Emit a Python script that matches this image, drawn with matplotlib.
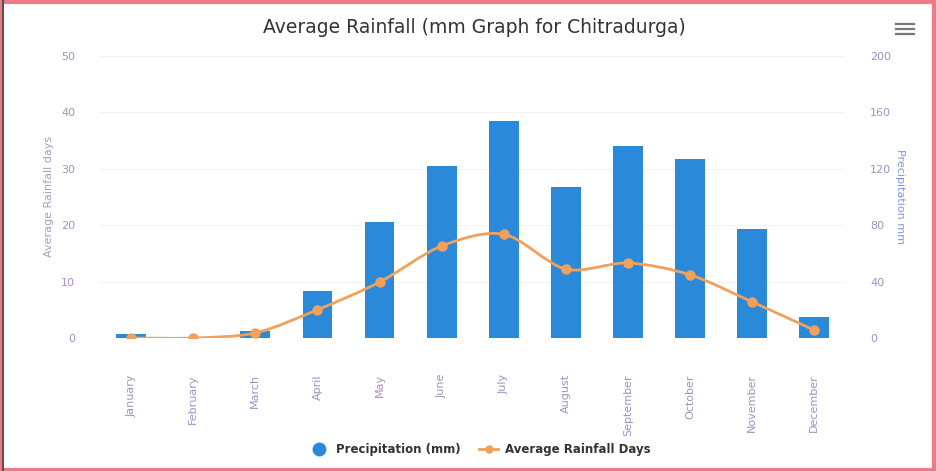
import numpy as np
import matplotlib
matplotlib.use("Agg")
import matplotlib.pyplot as plt
from matplotlib.path import Path
from matplotlib.patches import PathPatch, Rectangle
from matplotlib.lines import Line2D

months = ['January', 'February', 'March', 'April', 'May', 'June', 'July',
          'August', 'September', 'October', 'November', 'December']
precip_mm = [3, 0.5, 5, 33, 82, 122, 154, 107, 136, 127, 77, 15]
rain_days = [0, 0, 0.9, 5.0, 9.9, 16.3, 18.4, 12.2, 13.3, 11.2, 6.4, 1.4]

bar_col = '#2a8ad9'
line_col = '#f2a05a'
tick_col = '#a48fc4'


def spline_path(xs, ys, k=0.3):
    # smooth curve through the points, like a highcharts spline
    verts = [(xs[0], ys[0])]
    codes = [Path.MOVETO]
    n = len(xs)
    for i in range(n - 1):
        x0, y0 = xs[max(i - 1, 0)], ys[max(i - 1, 0)]
        x1, y1 = xs[i], ys[i]
        x2, y2 = xs[i + 1], ys[i + 1]
        x3, y3 = xs[min(i + 2, n - 1)], ys[min(i + 2, n - 1)]
        c1 = (x1 + (x2 - x0) * k / 2, y1 + (y2 - y0) * k / 2)
        c2 = (x2 - (x3 - x1) * k / 2, y2 - (y3 - y1) * k / 2)
        verts += [c1, c2, (x2, y2)]
        codes += [Path.CURVE4] * 3
    return Path(verts, codes)


fig = plt.figure(figsize=(9.36, 4.71), dpi=100)
ax = fig.add_axes([0.107, 0.2824, 0.796, 0.599])
ax2 = ax.twinx()

x = np.arange(len(months))

# bars on the precipitation (right) axis
ax2.set_axisbelow(True)
ax2.yaxis.grid(True, color='#f3f3f3', lw=0.8)
ax2.bar(x, precip_mm, width=0.48, color=bar_col, zorder=2)
ax2.set_ylim(0, 200)
ax2.set_yticks([0, 40, 80, 120, 160, 200])

# rainfall days on the left axis, drawn above the bars
ax.set_zorder(ax2.get_zorder() + 1)
ax.patch.set_visible(False)
ax.add_patch(PathPatch(spline_path(list(x), rain_days), facecolor='none',
                       edgecolor=line_col, lw=2))
ax.plot(x, rain_days, 'o', color=line_col, ms=6.5, zorder=4)
ax.set_ylim(0, 50)
ax.set_yticks([0, 10, 20, 30, 40, 50])
ax.set_xlim(-0.5, 11.5)
ax.set_xticks(x)
ax.set_xticklabels(months, rotation=90, color=tick_col, fontsize=7.5,
                   va='top', ha='center')

for a in (ax, ax2):
    for s in a.spines.values():
        s.set_visible(False)
    a.tick_params(length=0, labelsize=8, labelcolor=tick_col)
ax.tick_params(axis='y', pad=18)
ax.tick_params(axis='x', pad=26)
ax2.tick_params(axis='y', pad=18)

ax.set_ylabel('Average Rainfall days', color='#a79cc4', fontsize=8, labelpad=5)
ax2.set_ylabel('Precipitation mm', color='#7f95e0', fontsize=8,
               rotation=-90, labelpad=3, va='bottom')

fig.text(0.507, 0.942, 'Average Rainfall (mm Graph for Chitradurga)',
         ha='center', va='center', fontsize=13.5, color='#333333')

# legend
handles = [Line2D([], [], marker='o', ls='none', color=bar_col, ms=9),
           Line2D([], [], marker='o', color=line_col, lw=2, ms=5)]
fig.legend(handles, ['Precipitation (mm)', 'Average Rainfall Days'],
           loc='center', bbox_to_anchor=(0.513, 0.045), ncol=2, frameon=False,
           prop={'weight': 'bold', 'size': 8.5}, labelcolor='#333333',
           handlelength=1.6, columnspacing=1.6, handletextpad=0.6)

# menu icon
for yy in (0.928, 0.938, 0.948):
    fig.add_artist(Line2D([0.957, 0.977], [yy, yy], color='#777777', lw=1.6))

# scanned frame
fig.add_artist(Rectangle((0.001, 0.003), 0.997, 0.993, transform=fig.transFigure,
                         fill=False, edgecolor='#ee7a86', lw=3))
fig.add_artist(Line2D([0.003, 0.003], [0, 1], color='#555555', lw=1.5))

fig.savefig('out.png', dpi=100)
